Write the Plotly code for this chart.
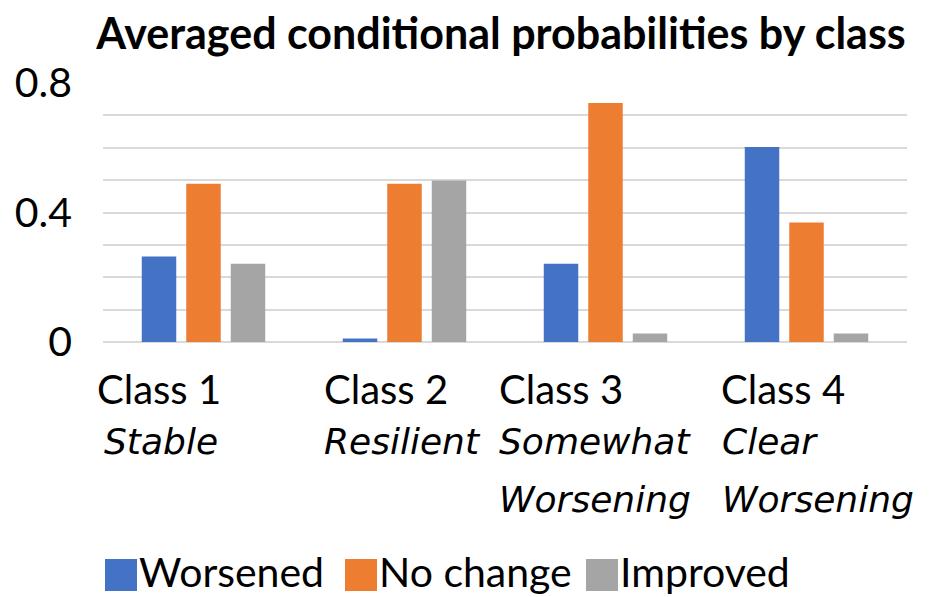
import plotly.graph_objects as go

categories = ["Class 1", "Class 2", "Class 3", "Class 4"]
subtitles = [["Stable"], ["Resilient"], ["Somewhat", "Worsening"], ["Clear", "Worsening"]]
worsened = [0.264, 0.011, 0.242, 0.602]
no_change = [0.489, 0.489, 0.738, 0.369]
improved = [0.242, 0.499, 0.026, 0.026]
series_names = ["Worsened", "No change", "Improved"]
ytick_vals = [0, 0.1, 0.2, 0.3, 0.4, 0.5, 0.6, 0.7, 0.8]
ytick_text = ["0", "", "", "", "0.4", "", "", "", "0.8"]

colors = ["#4472C4", "#ED7D31", "#A5A5A5"]
FONT = "Lato"
IFONT = "DejaVu Sans"

W, H = 930, 597
ML, MR, MT, MB = 103, 23, 83, 255
PW, PH = W - ML - MR, H - MT - MB


def px2x(px):
    return (px - ML) / PW


def px2y(py):
    return (H - MB - py) / PH


fig = go.Figure()
for name, vals, col in zip(series_names, [worsened, no_change, improved], colors):
    fig.add_trace(go.Bar(x=categories, y=vals, name=name, marker_color=col,
                         marker_line_width=0, showlegend=False))

# category labels (two-level, left aligned blocks)
main_shift = [-108.5, -82.5, -108.5, -87.5]
sub_shift = [-101.5, -82.5, -108.5, -86.5]
main_top = 401 - 0.94 * 40
sub_tops = [452 - 0.93 * 36, 510 - 0.93 * 36]
for cat, subs, ms, ss in zip(categories, subtitles, main_shift, sub_shift):
    fig.add_annotation(x=cat, xref="x", y=px2y(main_top), yref="paper",
                       xanchor="left", yanchor="top", xshift=ms, showarrow=False,
                       text=cat, font=dict(family=FONT, size=40, color="#000000"))
    for s, top in zip(subs, sub_tops):
        fig.add_annotation(x=cat, xref="x", y=px2y(top), yref="paper",
                           xanchor="left", yanchor="top", xshift=ss, showarrow=False,
                           text=f"<i>{s}</i>",
                           font=dict(family=IFONT, size=36, color="#000000"))

# legend (large square keys)
key_left = [105, 345, 586]
key_size = 32
key_top = 559
for name, col, kx in zip(series_names, colors, key_left):
    fig.add_shape(type="rect", xref="paper", yref="paper",
                  x0=px2x(kx), x1=px2x(kx + key_size),
                  y0=px2y(key_top + key_size), y1=px2y(key_top),
                  fillcolor=col, line_width=0)
    fig.add_annotation(x=px2x(kx + key_size + 1), xref="paper",
                       y=px2y(546), yref="paper", borderpad=0,
                       xanchor="left", yanchor="top", showarrow=False, text=name,
                       font=dict(family=FONT, size=41, color="#000000"))

fig.update_layout(
    width=W, height=H,
    margin=dict(l=ML, r=MR, t=MT, b=MB, autoexpand=False),
    paper_bgcolor="white", plot_bgcolor="white",
    barmode="group", bargap=0.336, bargroupgap=0.225,
    title=dict(text="<b>Averaged conditional probabilities by class</b>",
               x=501 / W, xanchor="center", y=1 - 19 / H, yanchor="top",
               font=dict(family=FONT, size=43, color="#000000")),
    showlegend=False,
    font=dict(family=FONT, color="#000000"),
)
fig.update_xaxes(range=[-0.5, 3.5], autorange=False, showticklabels=False,
                 showgrid=False, showline=False, zeroline=False)
fig.update_yaxes(range=[0, 0.8], tickvals=ytick_vals, ticktext=ytick_text,
                 showgrid=True, gridcolor="#D9D9D9", gridwidth=1.5,
                 zeroline=True, zerolinecolor="#D9D9D9", zerolinewidth=1.5,
                 showline=False, ticks="", ticklabelstandoff=30,
                 tickfont=dict(family=FONT, size=41, color="#000000"))

fig.write_html("out.html", config={"displayModeBar": False},
               post_script="document.body.style.margin='0';document.body.style.padding='0';")
